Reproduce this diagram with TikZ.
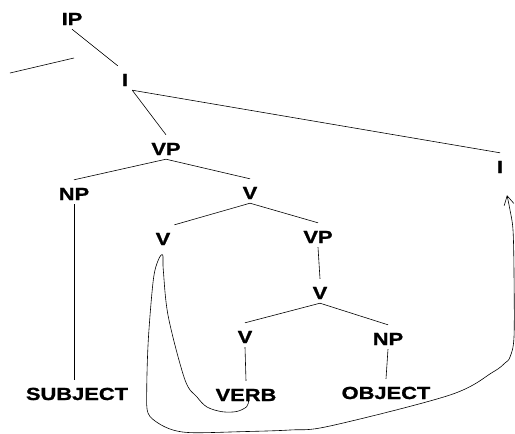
\documentclass[tikz,border=0pt]{standalone}
\usepackage{fontspec}
\setmainfont{Liberation Sans}[FakeStretch=1.25,BoldFeatures={FakeBold=1.2}]
\usetikzlibrary{arrows.meta}

\begin{document}
\begin{tikzpicture}[x=1pt,y=-1pt,
  cat/.style={font=\bfseries\fontsize{17.5}{20}\selectfont,anchor=base,inner sep=4pt,text height=16pt,text depth=0pt},
  br/.style={line width=0.6pt}]
\useasboundingbox (0,0) rectangle (515,434);
\node[cat] (ip)    at (72,25)  {IP};
\node[cat] (i)     at (125,86) {I};
\node[cat] (vp)    at (166,155) {VP};
\node[cat] (np)    at (74,200) {NP};
\node[cat] (vbar)  at (250,199) {V};
\node[cat] (v)     at (163,245) {V};
\node[cat] (vp2)   at (318,243) {VP};
\node[cat] (vbar2) at (320,299) {V};
\node[cat] (v2)    at (245,343) {V};
\node[cat] (np2)   at (388,345) {NP};
\node[cat] (subj)  at (77,400) {SUBJECT};
\node[cat] (verb)  at (246,401) {VERB};
\node[cat] (obj)   at (386,399) {OBJECT};
\node[cat] (i2)    at (500,173) {I};
% empty specifier branch
\coordinate (spec1) at (10,73);
\coordinate (spec2) at (74,58);
\draw[br] (spec1) -- (spec2);
\draw[br] (ip.south) -- (i.north west);
\draw[br] (i.south east) -- (vp.north);
\draw[br] (i.south east) -- (i2.north);
\draw[br] (vp.south) -- (np.north);
\draw[br] (vp.south) -- (vbar.north);
\draw[br] (np.south) -- (np.south |- subj.north);
\draw[br] (vbar.south) -- (v.north east);
\draw[br] (vbar.south) -- (vp2.north);
\draw[br] (vp2.south) -- (vbar2.north);
\draw[br] (vbar2.south) -- (v2.north);
\draw[br] (vbar2.south) -- (np2.north);
\draw[br] (v2.south) -- (verb.north);
\draw[br] (np2.south) -- (obj.north);
% head movement: VERB up to V, then round to I
\draw[br,-{Straight Barb[length=9pt,width=10pt]}] plot[smooth,tension=0.55] coordinates {
  ([shift={(2.5pt,4pt)}]verb.south) (246.7,406.7) (236.7,411.5) (222,411.7) (207,407) (197,397)
  (185,380) (168.3,316.7) (163.3,270) (162.7,255) (158.3,260) (153.3,280) (148.3,340)
  (146.7,392) (148,413) (158,423) (173,430) (193,432.7) (240,431.7) (290,430) (330,426)
  (450,395) (493,372) (505,363) (510,357) (514,337) (514,273) (513,230) (510,210)
  ([shift={(7pt,-18pt)}]i2.south)};
\end{tikzpicture}
\end{document}
